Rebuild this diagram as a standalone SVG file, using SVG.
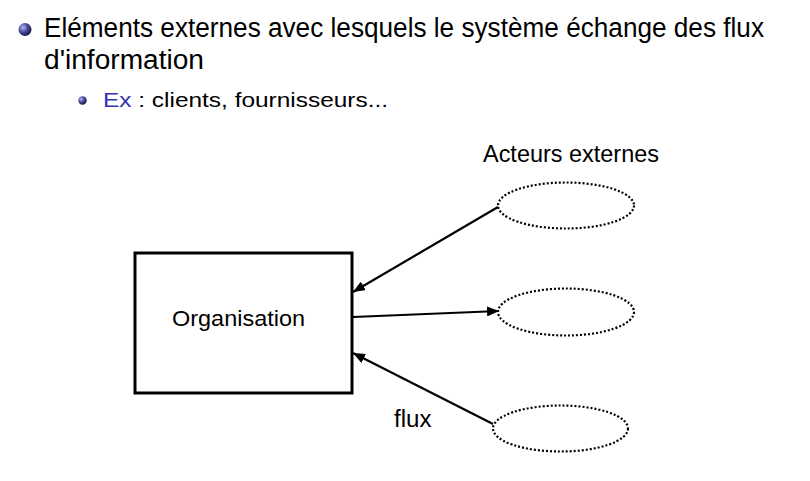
<svg xmlns="http://www.w3.org/2000/svg" width="810" height="481" viewBox="0 0 810 481">
  <defs>
    <radialGradient id="ball" cx="0.35" cy="0.35" r="0.7">
      <stop offset="0" stop-color="#b8b8f0"/>
      <stop offset="0.5" stop-color="#4a4aa0"/>
      <stop offset="1" stop-color="#14143c"/>
    </radialGradient>
    <marker id="arrow" viewBox="0 0 12 10" refX="12" refY="5" markerWidth="12" markerHeight="10" markerUnits="userSpaceOnUse" orient="auto">
      <path d="M0,0 L12,5 L0,10 z" fill="#000"/>
    </marker>
  </defs>
  <style>
    .head { font-family: "Liberation Sans", Arial, sans-serif; fill: #000; }
    .lbl { font-family: "Liberation Sans", Arial, sans-serif; fill: #000; }
    .actor { fill: none; stroke: #000; stroke-width: 2.2; stroke-dasharray: 2 2; }
    .edge { stroke: #000; stroke-width: 2.2; fill: none; marker-end: url(#arrow); }
  </style>
  <rect width="810" height="481" fill="#fff"/>

  <g id="bullets">
    <circle cx="25" cy="29.5" r="6.5" fill="url(#ball)"/>
    <text class="head" x="44" y="37" font-size="27" textLength="720" lengthAdjust="spacingAndGlyphs">Eléments externes avec lesquels le système échange des flux</text>
    <text class="head" x="44" y="69" font-size="27" textLength="160" lengthAdjust="spacingAndGlyphs">d'information</text>
    <circle cx="82.5" cy="100.5" r="4.2" fill="url(#ball)"/>
    <text class="head" x="103" y="106.5" font-size="21" textLength="285" lengthAdjust="spacingAndGlyphs"><tspan fill="#3333b3">Ex</tspan> : clients, fournisseurs...</text>
  </g>

  <g id="organisation">
    <rect x="135" y="253" width="217" height="140" fill="#fff" stroke="#000" stroke-width="3"/>
    <text class="lbl" x="172" y="326" font-size="22" textLength="133" lengthAdjust="spacingAndGlyphs">Organisation</text>
  </g>

  <g id="acteurs-label">
    <text class="lbl" x="483" y="162" font-size="23" textLength="176" lengthAdjust="spacingAndGlyphs">Acteurs externes</text>
  </g>

  <g id="acteur1">
    <ellipse class="actor" cx="566" cy="205.5" rx="68" ry="23"/>
  </g>
  <g id="acteur2">
    <ellipse class="actor" cx="566" cy="312" rx="68" ry="23.5"/>
  </g>
  <g id="acteur3">
    <ellipse class="actor" cx="560.5" cy="428.5" rx="67.5" ry="23"/>
  </g>

  <g id="connectors">
    <line class="edge" x1="498" y1="207" x2="353" y2="292"/>
    <line class="edge" x1="353" y1="317" x2="499" y2="311"/>
    <line class="edge" x1="493" y1="424" x2="353" y2="353"/>
    <text class="lbl" x="394" y="426.5" font-size="23" textLength="37.5" lengthAdjust="spacingAndGlyphs">flux</text>
  </g>
</svg>
